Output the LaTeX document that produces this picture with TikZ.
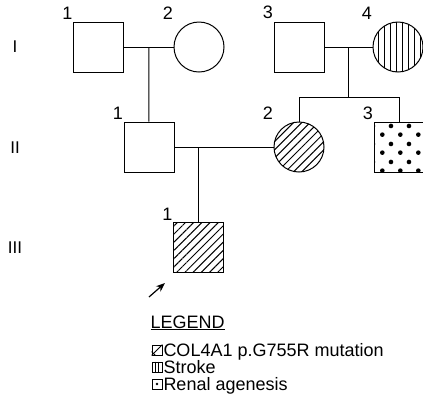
\documentclass[tikz,border=0pt]{standalone}
\usepackage{fontspec}
\setmainfont{Liberation Sans}
\usetikzlibrary{arrows.meta,positioning,calc,patterns.meta}

% staggered dots for the renal agenesis fill
\tikzdeclarepattern{
  name=StagDots,
  type=uncolored,
  bottom left={(0pt,0pt)}, top right={(18pt,18pt)},
  tile size={(18pt,18pt)},
  code={
    \fill (4.5pt,4.5pt) circle (2.4pt);
    \fill (13.5pt,13.5pt) circle (2.4pt);
  }
}

\begin{document}
\begin{tikzpicture}[
  x=1pt,y=-1pt,
  line width=1pt,
  male/.style={draw,minimum size=50pt,inner sep=0pt},
  female/.style={draw,circle,minimum size=50pt,inner sep=0pt},
  hatch/.style={pattern={Lines[angle=45,distance=5.8pt,line width=1pt]}},
  vhatch/.style={pattern={Lines[angle=90,distance=6pt,line width=1pt]}},
  speckle/.style={pattern=StagDots},
  num/.style={font=\fontsize{18}{18}\selectfont,inner sep=0pt,anchor=south east},
  gen/.style={font=\fontsize{17}{17}\selectfont,inner sep=0pt},
  legtxt/.style={font=\fontsize{18}{16}\selectfont,inner sep=0pt,anchor=base west},
  legkey/.style={draw,line width=0.8pt,minimum size=10pt,inner sep=0pt},
  pointer/.style={-{Stealth[length=9pt,width=7pt]},line width=1.2pt}
]
\useasboundingbox (0,0) rectangle (423,408);

% generation labels
\node[gen] (gI) at (15,47) {I};
\node[gen] (gII) at (15,148) {II};
\node[gen] (gIII) at (15,248) {III};

% individuals
\node[male] (I1) at (98.5,47) {};
\node[female] (I2) at (199,47) {};
\node[male] (I3) at (299,47) {};
\node[female,vhatch] (I4) at (398,47) {};
\node[male] (II1) at (149,147) {};
\node[female,hatch] (II2) at (299,147) {};
\node[male,speckle] (II3) at (399,147.5) {};
\node[male,hatch] (III1) at (198.5,247) {};

% numbers
\node[num] at ([shift={(0,-2)}]I1.north west) {1};
\node[num] at ([shift={(0,-2)}]I2.west |- I2.north) {2};
\node[num] at ([shift={(0,-2)}]I3.north west) {3};
\node[num] at ([shift={(0,-2)}]I4.west |- I4.north) {4};
\node[num] at ([shift={(0,-2)}]II1.north west) {1};
\node[num] at ([shift={(0,-2)}]II2.west |- II2.north) {2};
\node[num] at ([shift={(0,-2)}]II3.north west) {3};
\node[num] at ([shift={(0,-1)}]III1.north west) {1};

% matings and descent
\draw (I1) -- (I2);
\coordinate (m1) at ($(I1.east)!.5!(I2.west)$);
\draw (m1) -- (II1);
\draw (I3) -- (I4);
\coordinate (m2) at ($(I3.east)!.5!(I4.west)$);
\coordinate (s2) at ($(m2)+(0,50)$);
\draw (m2) -- (s2);
\draw (II2.north) |- (II3.north |- s2) -- (II3.north);
\draw (II1) -- (II2);
\coordinate (m3) at (III1 |- II1);
\draw (m3) -- (III1);

% proband
\coordinate (ptail) at (149,297);
\coordinate (phead) at (165,283);
\draw[pointer] (ptail) -- (phead);

% legend
\node[legtxt] (leghead) at (150,328) {\underline{LEGEND}};
\node[legkey] (k1) at (157,350) {};
\node[legkey] (k2) at (157,367) {};
\node[legkey] (k3) at (157,384) {};
\node[legtxt] (t1) at (163,356) {COL4A1 p.G755R mutation};
\node[legtxt] (t2) at (163,373) {Stroke};
\node[legtxt] (t3) at (163,390) {Renal agenesis};
\draw[line width=0.8pt] (k1.south west) -- (k1.north east);
\draw[line width=0.8pt] ($(k1.south west)!.35!(k1.north west)$) -- ($(k1.south west)!.35!(k1.south east)$);
\draw[line width=0.8pt] ($(k2.north west)!.33!(k2.north east)$) -- ($(k2.south west)!.33!(k2.south east)$);
\draw[line width=0.8pt] ($(k2.north west)!.67!(k2.north east)$) -- ($(k2.south west)!.67!(k2.south east)$);
\fill (k3.center) circle (1.4pt);
\end{tikzpicture}
\end{document}
